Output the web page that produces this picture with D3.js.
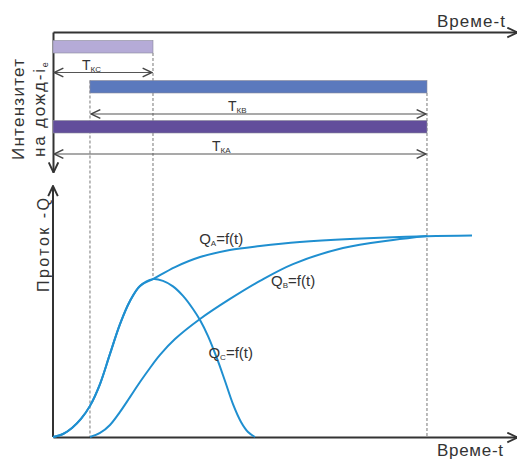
<!DOCTYPE html>
<html><head><meta charset="utf-8">
<script src="https://cdn.jsdelivr.net/npm/d3@7"></script>
<style>body{margin:0;background:#fff}svg{display:block}text{font-family:Arial,"Liberation Sans",sans-serif}</style>
</head><body>
<svg id="c" width="517" height="459"></svg>
<script>
// ---- data ----
const curveA = [[0,0],[2.16,1.2],[4.09,3.6],[6.03,7.2],[7.97,12.4],[10.13,21.1],[12.28,33.1],[14.44,45],[16.59,54.2],[18.75,60.2],[21.55,62.9],[26.3,67.7],[31.7,71.7],[38.1,74.5],[44.6,76.1],[53.2,77.7],[64,78.9],[80.6,80],[90.3,80.3]];
const curveB = [[7.97,0],[10.13,1.6],[12.28,4.8],[14.44,10],[16.59,15.9],[18.75,21.9],[20.9,27.5],[23.06,32.7],[26.29,39.0],[31.68,47],[38.15,55],[44.61,62.2],[51.72,68.9],[62.5,75.3],[73.28,78.5],[80.6,80.1]];
const curveC = [[0,0],[2.16,1.2],[4.09,3.6],[6.03,7.2],[7.97,12.4],[10.13,21.1],[12.28,33.1],[14.44,45],[16.59,54.2],[18.75,60.2],[21.55,62.9],[23.7,62.2],[25.86,60],[28.02,56.2],[30.17,51],[31.68,46.6],[33.41,40.2],[35.34,31.3],[37.07,22.3],[38.79,13.1],[40.52,6],[42.03,2],[43.53,0]];
const rainRows = ["C","B","A"];
const rainStart = [0, 7.97, 0];
const rainEnd = [21.55, 80.6, 80.6];
const rainSub = ["КС","КВ","КА"];
const rainColors = ["#b5abd7","#5b79bd","#624e9b"];
const curveLabels = [
  {main:"Q", sub:"A", rest:"=f(t)", t:31.5, q:77},
  {main:"Q", sub:"B", rest:"=f(t)", t:47, q:60},
  {main:"Q", sub:"C", rest:"=f(t)", t:33.5, q:31.5}
];
const xTitle = "Време-t";
const yTitleTop = ["Интензитет","на дожд-i"];
const yTitleBottom = "Проток -Q";

// ---- scales ----
const svg = d3.select("#c");
const x = d3.scaleLinear().domain([0,100]).range([53,517]);
const y = d3.scaleLinear().domain([0,100]).range([437,186]);
const row = d3.scaleBand().domain(rainRows).range([40.5,160.5]);

const defs = svg.append("defs");
function chev(id, color, size, w){
  defs.append("marker").attr("id",id).attr("viewBox","0 0 10 10").attr("refX",9.5).attr("refY",5)
    .attr("markerWidth",size).attr("markerHeight",size).attr("markerUnits","userSpaceOnUse").attr("orient","auto-start-reverse")
    .append("path").attr("d","M1,1 L9.5,5 L1,9").attr("fill","none").attr("stroke",color).attr("stroke-width",w);
}
chev("ax","#333",12,1.6);
chev("dm","#444",11,1.3);

// ---- top panel axes ----
const axTop = svg.append("g").attr("transform","translate(0,32)")
  .call(d3.axisBottom(x).tickValues([]).tickSizeOuter(0));
axTop.select(".domain").attr("stroke","#333").attr("stroke-width",2).attr("marker-end","url(#ax)");
const ys = d3.scaleLinear().domain([0,1]).range([32,172]);
const axTopY = svg.append("g").attr("transform","translate(53,0)")
  .call(d3.axisLeft(ys).tickValues([]).tickSizeOuter(0));
axTopY.select(".domain").attr("stroke","#333").attr("stroke-width",2).attr("marker-end","url(#ax)");

// ---- dashed guides ----
const guides = [
  {t:rainStart[1], y1:row("B"), y2:y(0)},
  {t:rainEnd[0], y1:row("C")+12.5, y2:y(62.9)},
  {t:rainEnd[1], y1:row("B")+12.5, y2:y(0)}
];
svg.append("g").selectAll("line").data(guides).join("line")
  .attr("x1",d=>x(d.t)).attr("x2",d=>x(d.t)).attr("y1",d=>d.y1).attr("y2",d=>d.y2)
  .attr("stroke","#777").attr("stroke-width",1).attr("stroke-dasharray","3,2");

// ---- rain bars ----
const rg = svg.append("g");
rainRows.forEach((r,i)=>{
  rg.append("rect").attr("x",x(rainStart[i])).attr("y",row(r)).attr("width",x(rainEnd[i])-x(rainStart[i])).attr("height",12.5)
    .attr("fill",rainColors[i]).attr("stroke","#8a8a9a").attr("stroke-width",0.6);
  const ay = row(r) + (i===0?32:33.5);
  rg.append("line").attr("x1",x(rainStart[i])+1).attr("x2",x(rainEnd[i])-1).attr("y1",ay).attr("y2",ay)
    .attr("stroke","#555").attr("stroke-width",1.2).attr("marker-start","url(#dm)").attr("marker-end","url(#dm)");
  const cx = i===0 ? 82 : (i===1 ? 228 : 212);
  const t = rg.append("text").attr("x",cx).attr("y",ay-3).attr("font-size",14).attr("fill","#333");
  t.append("tspan").text("T");
  t.append("tspan").attr("font-size",8).attr("dy",2).text(rainSub[i]);
});

// ---- bottom panel axes ----
const axB = svg.append("g").attr("transform","translate(0,437)")
  .call(d3.axisBottom(x).tickValues([]).tickSizeOuter(0));
axB.select(".domain").attr("stroke","#333").attr("stroke-width",2).attr("marker-end","url(#ax)");
const axL = svg.append("g").attr("transform","translate(53,0)")
  .call(d3.axisLeft(y).tickValues([]).tickSizeOuter(0));
axL.select(".domain").attr("d","M0,437V186").attr("stroke","#333").attr("stroke-width",2).attr("marker-end","url(#ax)");

// ---- curves ----
const line = d3.line().x(d=>x(d[0])).y(d=>y(d[1])).curve(d3.curveCatmullRom.alpha(0.5));
const cg = svg.append("g").attr("fill","none").attr("stroke","#1f8fd0").attr("stroke-width",2);
[curveA, curveB, curveC].forEach(c=>cg.append("path").attr("d",line(c)));

// ---- curve labels ----
curveLabels.forEach(l=>{
  const t = svg.append("text").attr("x",x(l.t)).attr("y",y(l.q)).attr("font-size",15).attr("fill","#333");
  t.append("tspan").text(l.main);
  t.append("tspan").attr("font-size",8).attr("dy",2).text(l.sub);
  t.append("tspan").attr("dy",-2).text(l.rest);
});

// ---- titles ----
svg.append("text").attr("x",437).attr("y",27).attr("font-size",17).attr("fill","#333").attr("textLength",68).text(xTitle);
svg.append("text").attr("x",437).attr("y",456).attr("font-size",17).attr("fill","#333").attr("textLength",66).text(xTitle);

svg.append("text").attr("transform","translate(24,160) rotate(-90)").attr("font-size",17).attr("fill","#333").attr("textLength",101).text(yTitleTop[0]);
const t2 = svg.append("text").attr("transform","translate(45,157) rotate(-90)").attr("font-size",17).attr("fill","#333");
t2.append("tspan").attr("textLength",88).text(yTitleTop[1]);
t2.append("tspan").attr("font-size",9).attr("dy",3).text("е");
svg.append("text").attr("transform","translate(49,292) rotate(-90)").attr("font-size",16).attr("fill","#333").attr("textLength",94).text(yTitleBottom);
</script>
</body></html>
